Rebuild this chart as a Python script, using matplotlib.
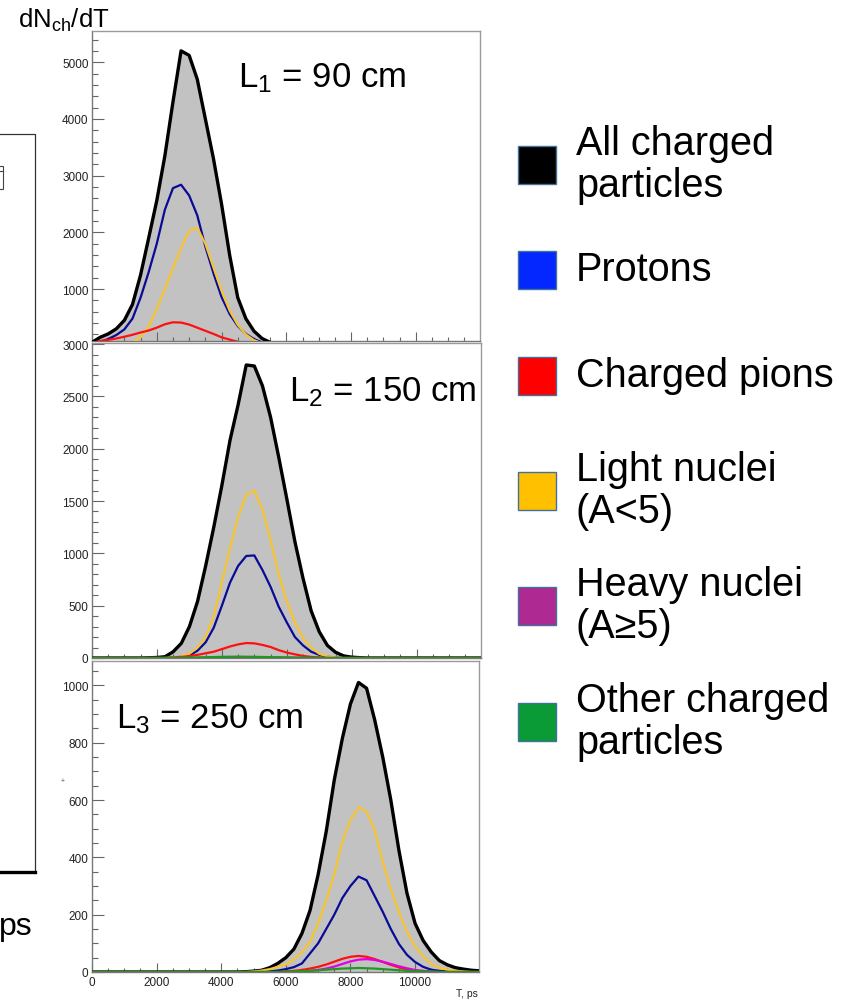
"""
Time-of-flight spectra dN_ch/dT of charged particles at three distances,
split by particle species, with a colour key on the right.
"""

import numpy as np
import matplotlib
matplotlib.use("Agg")
import matplotlib.pyplot as plt
from matplotlib.patches import Rectangle
from matplotlib.ticker import MultipleLocator

plt.rcParams["font.family"] = ["Liberation Sans", "DejaVu Sans"]
plt.rcParams["mathtext.fontset"] = "custom"
plt.rcParams["mathtext.rm"] = "Liberation Sans"
plt.rcParams["mathtext.it"] = "Liberation Sans:italic"

# ---------------------------------------------------------------------------
# Data: counts, on a 250 ps grid
# ---------------------------------------------------------------------------
T_STEP = 250
T_MAX = 12000
X_RIGHT = 11980   # axis end (last labelled tick is 10000)

# L1 = 90 cm, grid starts at 0 ps
P1_T0 = 0
P1_ALL   = [60, 150, 210, 300, 450, 730, 1250, 1900, 2560, 3350, 4300, 5200, 5120, 4700, 4000,
            3300, 2500, 1600, 850, 480, 260, 130, 60, 25, 10]
P1_PROT  = [30, 70, 120, 190, 290, 480, 850, 1300, 1800, 2400, 2780, 2840, 2650, 2300, 1750,
            1280, 860, 560, 350, 210, 120, 60, 25, 10, 0]
P1_LIGHT = [0, 0, 0, 0, 20, 60, 150, 330, 650, 1000, 1370, 1720, 2030, 2080, 1800,
            1380, 970, 620, 370, 200, 100, 45, 20, 5, 0]
P1_PION  = [50, 85, 105, 130, 160, 195, 235, 270, 320, 380, 415, 410, 375, 320, 265,
            210, 150, 110, 70, 40, 20, 10, 4, 0, 0]
P1_HEAVY = [0, 0, 0, 0, 2, 4, 7, 12, 18, 24, 28, 30, 28, 24, 18,
            12, 8, 5, 3, 1, 0, 0, 0, 0, 0]
P1_OTHER = [2, 4, 6, 8, 10, 12, 14, 16, 18, 19, 20, 19, 18, 16, 14,
            12, 10, 8, 6, 4, 3, 2, 1, 0, 0]

# L2 = 150 cm, grid starts at 1500 ps
P2_T0 = 1500
P2_ALL   = [0, 2, 5, 12, 60, 140, 300, 540, 880, 1250, 1650, 2080, 2420, 2800, 2790,
            2600, 2300, 1920, 1520, 1110, 760, 450, 250, 120, 55, 20, 8, 3, 0]
P2_PROT  = [0, 0, 0, 0, 5, 12, 25, 70, 150, 290, 500, 720, 880, 975, 980,
            840, 680, 490, 340, 200, 120, 60, 30, 12, 5, 0, 0, 0, 0]
P2_LIGHT = [0, 0, 0, 0, 5, 15, 40, 100, 200, 400, 720, 1050, 1350, 1560, 1600,
            1420, 1130, 800, 540, 340, 190, 100, 40, 15, 5, 0, 0, 0, 0]
P2_PION  = [0, 0, 0, 0, 5, 10, 18, 30, 45, 60, 85, 110, 130, 143, 140,
            125, 105, 75, 52, 35, 20, 10, 5, 0, 0, 0, 0, 0, 0]
P2_HEAVY = [0, 0, 0, 0, 0, 1, 1, 2, 3, 4, 5, 6, 6, 7, 7,
            6, 6, 5, 4, 3, 2, 1, 1, 0, 0, 0, 0, 0, 0]
P2_OTHER = [0, 0, 1, 1, 2, 3, 4, 5, 7, 9, 11, 12, 13, 12, 11,
            10, 8, 6, 5, 4, 3, 2, 1, 1, 0, 0, 0, 0, 0]

# L3 = 250 cm, grid starts at 4500 ps
P3_T0 = 4500
P3_ALL   = [0, 1, 3, 6, 15, 30, 50, 80, 135, 215, 340, 490, 670, 815, 935, 1010,
            990, 880, 750, 600, 425, 275, 170, 110, 70, 40, 25, 15, 10, 6, 4]
P3_PROT  = [0, 0, 0, 0, 2, 5, 10, 17, 30, 65, 100, 150, 200, 258, 300, 333,
            320, 265, 210, 150, 98, 60, 35, 18, 8, 4, 2, 0, 0, 0, 0]
P3_LIGHT = [0, 0, 2, 5, 10, 18, 26, 45, 70, 105, 170, 250, 340, 455, 530, 575,
            560, 495, 385, 290, 210, 140, 90, 55, 28, 15, 8, 4, 2, 0, 0]
P3_PION  = [0, 0, 0, 0, 0, 0, 2, 4, 7, 12, 18, 26, 36, 46, 53, 56,
            53, 45, 35, 25, 16, 9, 5, 2, 1, 0, 0, 0, 0, 0, 0]
P3_HEAVY = [0, 0, 0, 0, 0, 0, 0, 0, 2, 4, 7, 12, 19, 28, 37, 43,
            45, 42, 36, 28, 20, 13, 7, 4, 2, 0, 0, 0, 0, 0, 0]
P3_OTHER = [0, 0, 0, 0, 0, 0, 1, 2, 3, 4, 6, 8, 10, 12, 13, 14,
            13, 12, 10, 8, 6, 4, 3, 2, 1, 0, 0, 0, 0, 0, 0]

DISTANCE_LABELS = [r"L$_{\mathrm{1}}$ = 90 cm", r"L$_{\mathrm{2}}$ = 150 cm", r"L$_{\mathrm{3}}$ = 250 cm"]

LEGEND_LABELS = ["All charged\nparticles", "Protons", "Charged pions",
                 "Light nuclei\n(A<5)", "Heavy nuclei\n(A\u22655)", "Other charged\nparticles"]
LEGEND_COLORS = ["#000000", "#0426ff", "#ff0000", "#ffc000", "#ae2a92", "#0a9a36"]

# line colours of the histograms (prot, light, pion, heavy, other)
LINE_COLORS = ["#0a0a96", "#f7c431", "#ff1010", "#e400e4", "#1f9a1f"]
FILL_COL = "#c2c2c2"

W, H = 854, 1004


def full_range(t0, vals):
    t = t0 + T_STEP * np.arange(len(vals))
    v = np.asarray(vals, dtype=float)
    if t0 > 0:
        t = np.concatenate([[0], [t0 - T_STEP], t])
        v = np.concatenate([[0], [0], v])
    if t[-1] < T_MAX:
        t = np.concatenate([t, [t[-1] + T_STEP], [T_MAX]])
        v = np.concatenate([v, [0], [0]])
    return t, v


def px_axes(fig, left, top, right, bottom):
    return fig.add_axes([left / W, 1 - bottom / H, (right - left) / W, (bottom - top) / H])


def main():
    fig = plt.figure(figsize=(W / 100, H / 100), dpi=100)

    panels = [
        dict(box=(92, 32, 480, 342), ylim=(85, 5550), major=1000, minor=200, t0=P1_T0,
             total=P1_ALL, parts=[P1_PROT, P1_LIGHT, P1_PION, P1_HEAVY, P1_OTHER],
             lab_xy=(0.376, 0.823)),
        dict(box=(92, 344, 481, 659), ylim=(0, 3010), major=500, minor=100, t0=P2_T0,
             total=P2_ALL, parts=[P2_PROT, P2_LIGHT, P2_PION, P2_HEAVY, P2_OTHER],
             lab_xy=(0.506, 0.819)),
        dict(box=(92, 662, 479, 973), ylim=(0, 1085), major=200, minor=50, t0=P3_T0,
             total=P3_ALL, parts=[P3_PROT, P3_LIGHT, P3_PION, P3_HEAVY, P3_OTHER],
             lab_xy=(0.062, 0.788)),
    ]

    for i, p in enumerate(panels):
        ax = px_axes(fig, *p["box"])
        ax.set_facecolor("white")
        t, v = full_range(p["t0"], p["total"])
        ax.fill_between(t, v, color=FILL_COL, lw=0, zorder=1)
        ax.plot(t, v, color="black", lw=2.4, zorder=3, solid_joinstyle="round")
        for vals, col in zip(p["parts"], LINE_COLORS):
            tt, vv = full_range(p["t0"], vals)
            ax.plot(tt, vv, color=col, lw=1.6, zorder=4, solid_joinstyle="round")

        ax.set_xlim(0, X_RIGHT)
        ax.set_ylim(*p["ylim"])
        ax.xaxis.set_major_locator(MultipleLocator(2000))
        ax.xaxis.set_minor_locator(MultipleLocator(500))
        ax.yaxis.set_major_locator(MultipleLocator(p["major"]))
        ax.yaxis.set_minor_locator(MultipleLocator(p["minor"]))
        ax.tick_params(axis="y", which="major", direction="in", length=8.5, width=0.8,
                       color="#666666", labelsize=8.5, labelcolor="#222222", pad=2.5)
        ax.tick_params(axis="y", which="minor", direction="in", length=4.3, width=0.8,
                       color="#666666")
        ax.tick_params(axis="x", which="major", direction="in", length=6.5, width=0.8,
                       color="#666666", labelsize=8.5, labelcolor="#222222", pad=3)
        ax.tick_params(axis="x", which="minor", direction="in", length=3.2, width=0.8,
                       color="#666666")
        if i < 2:
            ax.tick_params(axis="x", labelbottom=False)
        for side, sp in ax.spines.items():
            sp.set_linewidth(1.0)
            sp.set_color("#9a9a9a" if side in ("top", "right") else "#777777")

        ax.text(p["lab_xy"][0], p["lab_xy"][1], DISTANCE_LABELS[i], transform=ax.transAxes,
                fontsize=25, ha="left", va="baseline", color="black", clip_on=False, zorder=6)

    # overlay in pixel coordinates for the texts and key outside the panels
    ov = fig.add_axes([0, 0, 1, 1])
    ov.set_xlim(0, W)
    ov.set_ylim(H, 0)
    ov.axis("off")
    ov.patch.set_alpha(0)

    ov.text(18, 28, r"dN$_{\mathrm{ch}}$/dT", fontsize=18.5, ha="left", va="baseline")
    ov.text(478, 997, "T, ps", fontsize=7.5, ha="right", va="baseline", color="#222222")

    # fragment of the neighbouring figure cut at the left edge
    ov.plot([0, 35, 35], [135, 135, 874], color="#333333", lw=0.9)
    ov.plot([0, 35], [873, 873], color="black", lw=2.4)
    ov.add_patch(Rectangle((-6, 167), 9, 23, fill=False, ec="#444444", lw=0.8))
    ov.plot([-6, 3], [172, 172], color="#444444", lw=0.8)
    ov.text(-1, 935, "ps", fontsize=23, ha="left", va="baseline")
    ov.text(63, 782, "+", fontsize=5, ha="center", va="center", color="#555555")

    # colour key
    key_y = [166, 271, 377, 492, 607, 723]
    for yc, lab, col in zip(key_y, LEGEND_LABELS, LEGEND_COLORS):
        ov.add_patch(Rectangle((518, yc - 19), 38, 38, fc=col, ec="#41719c", lw=1.0))
        ov.text(576, yc - 1, lab, fontsize=28.5, ha="left", va="center", linespacing=1.12)

    fig.savefig("out.png", dpi=100, facecolor="white")


if __name__ == "__main__":
    main()
